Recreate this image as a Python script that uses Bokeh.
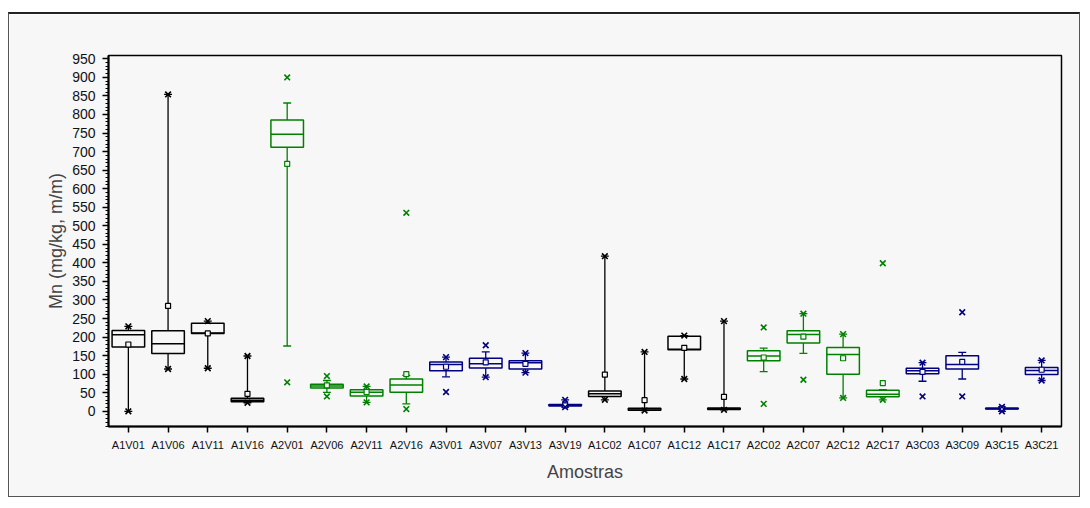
from bokeh.plotting import figure
from bokeh.models import Range1d, FixedTicker, ColumnDataSource
from bokeh.embed import file_html
from bokeh.resources import INLINE

samples = ["A1V01", "A1V06", "A1V11", "A1V16", "A2V01", "A2V06", "A2V11", "A2V16",
           "A3V01", "A3V07", "A3V13", "A3V19", "A1C02", "A1C07", "A1C12", "A1C17",
           "A2C02", "A2C07", "A2C12", "A2C17", "A3C03", "A3C09", "A3C15", "A3C21"]
q1 = [173, 156, 210, 26, 712, 63, 41, 51, 109, 117, 114, 14, 40, 3, 166, 5,
      136, 184, 100, 39, 101, 114, 6, 99]
median = [206, 182, 211, 30, 747, 68, 51, 71, 126, 128, 131, 16, 47, 6, 167, 7,
          149, 207, 153, 46, 109, 126, 7, 110]
q3 = [218, 217, 237, 35, 785, 73, 58, 87, 133, 143, 136, 18, 55, 8, 202, 9,
      163, 217, 172, 57, 116, 150, 9, 118]
mean = [180, 284, 210, 47, 667, 70, 52, 100, 120, 132, 128, 16, 99, 30, 171, 39,
        145, 201, 143, 76, 106, 133, 7, 112]
whisker_low = [0, 114, 116, 23, 176, 51, 24, 20, 93, 92, 104, 11, 31, 2, 87, 4,
               107, 156, 36, 31, 81, 87, 0, 83]
whisker_high = [229, 854, 243, 149, 831, 83, 67, 97, 146, 160, 157, 31, 418, 160, 204, 243,
                170, 263, 208, 58, 131, 159, 12, 137]
marker_min = [0, 114, 116, 23, 78, 40, 24, 6, 52, 92, 104, 11, 31, 2, 87, 4,
              20, 85, 36, 31, 40, 40, 0, 83]
marker_max = [229, 854, 243, 149, 900, 95, 67, 535, 146, 178, 157, 31, 418, 160, 204, 243,
              226, 263, 208, 399, 131, 267, 12, 137]

group_colors = {"A1": "#000000", "A2": "#008000", "A3": "#000080"}
colors = [group_colors[s[:2]] for s in samples]
xs = list(range(len(samples)))

BG = "#f7f7f7"
HALF = 0.41
CAP = 0.1

src = ColumnDataSource(dict(
    x=xs, q1=q1, med=median, q3=q3, mean=mean, wlo=whisker_low, whi=whisker_high,
    mn=marker_min, mx=marker_max, color=colors,
    xl=[x - HALF for x in xs], xr=[x + HALF for x in xs],
    cl=[x - CAP for x in xs], cr=[x + CAP for x in xs],
))

p = figure(width=1072, height=485, output_backend="svg", toolbar_location=None,
           x_range=Range1d(-0.5, len(samples) - 0.5), y_range=Range1d(-41, 959),
           min_border_left=99, min_border_right=20, min_border_top=41, min_border_bottom=73)
p.background_fill_color = BG
p.border_fill_color = BG
p.outline_line_color = "black"
p.outline_line_width = 1.5
p.xgrid.visible = False
p.ygrid.visible = False
p.styles = {"margin-top": "12px", "margin-left": "8px",
            "border-top": "2px solid #222", "border-left": "1px solid #555",
            "border-right": "1px solid #555", "border-bottom": "1px solid #555"}

# whiskers
p.segment(x0="x", y0="q1", x1="x", y1="wlo", source=src, line_color="color", line_width=1.3)
p.segment(x0="x", y0="q3", x1="x", y1="whi", source=src, line_color="color", line_width=1.3)
p.segment(x0="cl", y0="wlo", x1="cr", y1="wlo", source=src, line_color="color", line_width=1.3)
p.segment(x0="cl", y0="whi", x1="cr", y1="whi", source=src, line_color="color", line_width=1.3)
# boxes
p.quad(left="xl", right="xr", bottom="q1", top="q3", source=src, fill_color=BG,
       line_color="color", line_width=1.5)
p.segment(x0="xl", y0="med", x1="xr", y1="med", source=src, line_color="color", line_width=1.5)
# mean
p.scatter(x="x", y="mean", source=src, marker="square", size=5, fill_color=BG,
          line_color="color", line_width=1.2)
# min / max
p.scatter(x="x", y="mn", source=src, marker="x", size=8, line_color="color", line_width=1.6)
p.scatter(x="x", y="mx", source=src, marker="x", size=8, line_color="color", line_width=1.6)

font = "Liberation Sans"
xa = p.xaxis[0]
xa.ticker = FixedTicker(ticks=xs)
xa.major_label_overrides = {i: s for i, s in enumerate(samples)}
xa.major_label_text_font = font
xa.major_label_text_font_size = "11px"
xa.major_label_text_color = "#111111"
xa.major_tick_out = 6
xa.major_tick_in = 0
xa.minor_tick_out = 0
xa.major_label_standoff = 6
xa.axis_line_width = 2
xa.major_tick_line_width = 1.5
xa.axis_label = "Amostras"
xa.axis_label_text_font = font
xa.axis_label_text_font_size = "18px"
xa.axis_label_text_font_style = "normal"
xa.axis_label_standoff = 8

ya = p.yaxis[0]
ya.ticker = FixedTicker(ticks=list(range(0, 951, 50)), minor_ticks=list(range(-40, 960, 10)))
ya.major_label_text_font = font
ya.major_label_text_font_size = "14px"
ya.major_label_text_color = "#111111"
ya.major_tick_out = 6
ya.major_tick_in = 0
ya.minor_tick_out = 3
ya.minor_tick_in = 0
ya.major_label_standoff = 7
ya.axis_line_width = 2
ya.major_tick_line_width = 1.5
ya.axis_label = "Mn (mg/kg, m/m)"
ya.axis_label_text_font = font
ya.axis_label_text_font_size = "18px"
ya.axis_label_text_font_style = "normal"
ya.axis_label_standoff = 3

open("out.html", "w").write(file_html(p, INLINE))
